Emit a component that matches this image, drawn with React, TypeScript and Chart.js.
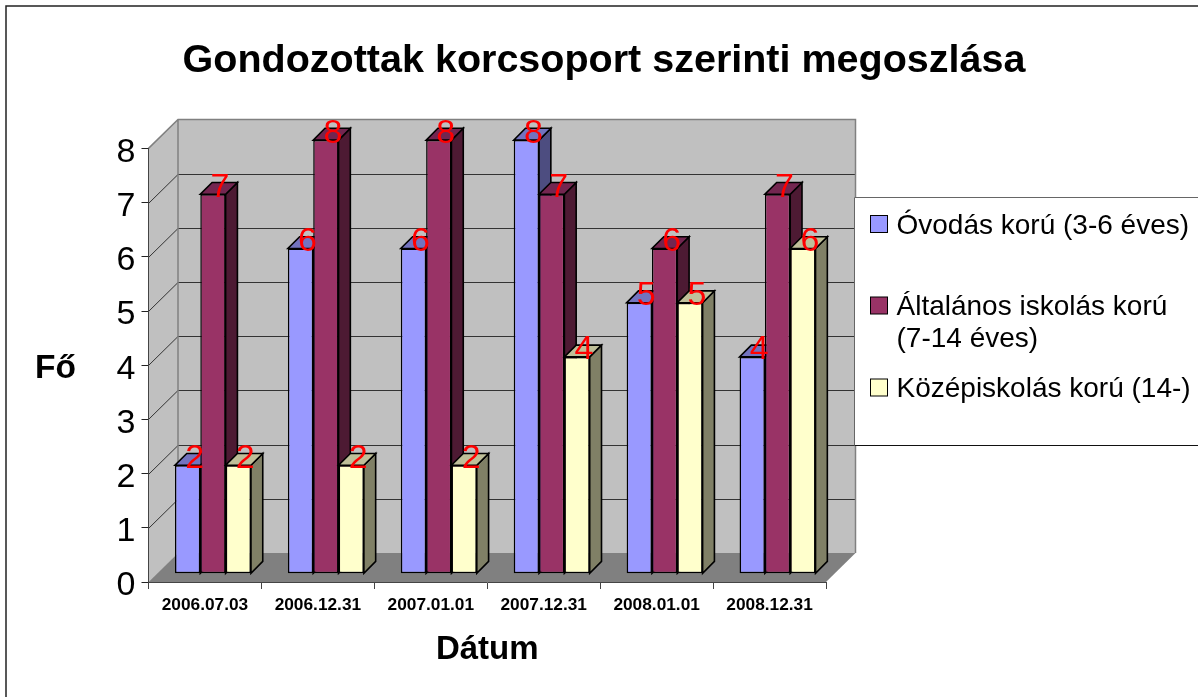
import React, { useEffect, useRef } from "react";
import { Chart, registerables } from "chart.js";

Chart.register(...registerables);

const categories = ["2006.07.03", "2006.12.31", "2007.01.01", "2007.12.31", "2008.01.01", "2008.12.31"];
const preschool = [2, 6, 6, 8, 5, 4];
const primary = [7, 8, 8, 7, 6, 7];
const secondary = [2, 2, 2, 4, 5, 6];
const seriesNames = ["Óvodás korú (3-6 éves)", "Általános iskolás korú (7-14 éves)", "Középiskolás korú (14-)"];
const legendLines = [["Óvodás korú (3-6 éves)"], ["Általános iskolás korú", "(7-14 éves)"], ["Középiskolás korú (14-)"]];
const legendBaselines = [233.5, 315, 397];
const fill = ["#9999FF", "#993366", "#FFFFCC"];
const topFace = ["#7373BF", "#732650", "#BFBF99"];
const sideFace = ["#4D4D80", "#4D1A33", "#808066"];
const titleText = "Gondozottak korcsoport szerinti megoszlása";
const xTitle = "Dátum";
const yTitle = "Fő";

const FONT = '"Liberation Sans", Arial, sans-serif';
const WALL_DX = 29.5;
const WALL_DY = 29;
const BAR_DX = 8;
const BAR_DY = 8.3;
const BAR_DEPTH = 11.8;

function poly(ctx: CanvasRenderingContext2D, pts: number[][], fillStyle: string, stroke?: string, lw = 1) {
  ctx.beginPath();
  pts.forEach((p, i) => (i ? ctx.lineTo(p[0], p[1]) : ctx.moveTo(p[0], p[1])));
  ctx.closePath();
  ctx.fillStyle = fillStyle;
  ctx.fill();
  if (stroke) {
    ctx.strokeStyle = stroke;
    ctx.lineWidth = lw;
    ctx.stroke();
  }
}

const scene3d = {
  id: "scene3d",
  beforeDraw(chart: any) {
    const { ctx, scales, width } = chart;
    const x = scales.x;
    const y = scales.y;
    const l = x.left;
    const r = x.right;
    const t = y.getPixelForValue(8);
    const b = y.getPixelForValue(0);
    ctx.save();
    ctx.fillStyle = "#fff";
    ctx.fillRect(0, 0, width, chart.height);
    ctx.strokeStyle = "#222";
    ctx.lineWidth = 1.5;
    ctx.beginPath();
    ctx.moveTo(6, chart.height);
    ctx.lineTo(6, 6);
    ctx.lineTo(width, 6);
    ctx.stroke();
    // side wall, back wall
    poly(ctx, [[l, t], [l + WALL_DX, t - WALL_DY], [l + WALL_DX, b - WALL_DY], [l, b]], "#C0C0C0");
    poly(ctx, [[l + WALL_DX, t - WALL_DY], [r + WALL_DX, t - WALL_DY], [r + WALL_DX, b - WALL_DY], [l + WALL_DX, b - WALL_DY]], "#C0C0C0");
    // grid lines
    ctx.strokeStyle = "#333";
    ctx.lineWidth = 1;
    for (let v = 1; v < 8; v++) {
      const py = Math.round(y.getPixelForValue(v)) + 0.5;
      ctx.beginPath();
      ctx.moveTo(l, py);
      ctx.lineTo(l + WALL_DX, py - WALL_DY);
      ctx.lineTo(r + WALL_DX, py - WALL_DY);
      ctx.stroke();
    }
    // wall outline
    ctx.strokeStyle = "#808080";
    ctx.lineWidth = 1.5;
    ctx.beginPath();
    ctx.moveTo(l, t);
    ctx.lineTo(l + WALL_DX, t - WALL_DY);
    ctx.lineTo(r + WALL_DX, t - WALL_DY);
    ctx.lineTo(r + WALL_DX, b - WALL_DY);
    ctx.moveTo(l + WALL_DX, t - WALL_DY);
    ctx.lineTo(l + WALL_DX, b - WALL_DY);
    ctx.stroke();
    // floor
    poly(ctx, [[l, b], [r, b], [r + WALL_DX, b - WALL_DY], [l + WALL_DX, b - WALL_DY]], "#808080");
    ctx.restore();
  },
  beforeDatasetsDraw(chart: any) {
    const { ctx } = chart;
    const metas = chart.data.datasets.map((_: any, i: number) => chart.getDatasetMeta(i));
    ctx.save();
    ctx.translate(BAR_DX, -BAR_DY);
    categories.forEach((_, c) => {
      metas.forEach((meta: any, d: number) => {
        const el = meta.data[c];
        const { x, y, base, width } = el.getProps(["x", "y", "base", "width"], true);
        const x0 = x - width / 2;
        const x1 = x + width / 2;
        poly(ctx, [[x1, y], [x1 + BAR_DEPTH, y - BAR_DEPTH], [x1 + BAR_DEPTH, base - BAR_DEPTH], [x1, base]], sideFace[d], "#000", 1.6);
        poly(ctx, [[x0, y], [x1, y], [x1 + BAR_DEPTH, y - BAR_DEPTH], [x0 + BAR_DEPTH, y - BAR_DEPTH]], topFace[d], "#000", 1.6);
        el.draw(ctx);
      });
    });
    ctx.fillStyle = "#FF0000";
    ctx.font = `34px ${FONT}`;
    ctx.textAlign = "center";
    ctx.textBaseline = "alphabetic";
    metas.forEach((meta: any, d: number) => {
      meta.data.forEach((el: any, c: number) => {
        const { x, y } = el.getProps(["x", "y"], true);
        ctx.fillText(String(chart.data.datasets[d].data[c]), x + 7, y + 2.5);
      });
    });
    ctx.restore();
    return false;
  },
  afterDraw(chart: any) {
    const { ctx, width } = chart;
    ctx.save();
    ctx.fillStyle = "#fff";
    ctx.fillRect(854, 197.5, width - 854, 248);
    ctx.strokeStyle = "#666";
    ctx.lineWidth = 1;
    ctx.beginPath();
    ctx.moveTo(width, 197.5);
    ctx.lineTo(854.5, 197.5);
    ctx.lineTo(854.5, 445.5);
    ctx.stroke();
    ctx.strokeStyle = "#111";
    ctx.beginPath();
    ctx.moveTo(854.5, 445.5);
    ctx.lineTo(width, 445.5);
    ctx.stroke();
    ctx.textAlign = "left";
    ctx.textBaseline = "alphabetic";
    legendLines.forEach((lines, i) => {
      const bl = legendBaselines[i];
      ctx.fillStyle = fill[i];
      ctx.fillRect(870.5, bl - 18, 17, 17);
      ctx.strokeStyle = "#000";
      ctx.lineWidth = 1;
      ctx.strokeRect(870.5, bl - 18, 17, 17);
      ctx.fillStyle = "#000";
      ctx.font = `28px ${FONT}`;
      lines.forEach((s, k) => ctx.fillText(s, 896.5, bl + k * 32));
    });
    ctx.font = `bold 33.5px ${FONT}`;
    ctx.fillText(yTitle, 35, 378);
    ctx.restore();
  },
};

export default function App() {
  const ref = useRef<HTMLCanvasElement>(null);
  useEffect(() => {
    document.body.style.margin = "0";
    const chart = new Chart(ref.current as HTMLCanvasElement, {
      type: "bar",
      data: {
        labels: categories,
        datasets: [preschool, primary, secondary].map((data, i) => ({
          label: seriesNames[i],
          data,
          backgroundColor: fill[i],
          borderColor: "#000",
          borderWidth: 1.5,
          borderSkipped: false,
          categoryPercentage: 0.673,
          barPercentage: 1,
        })),
      },
      options: {
        responsive: false,
        animation: false,
        layout: { padding: { left: 10 } },
        plugins: {
          legend: { display: false },
          tooltip: { enabled: false },
          title: {
            display: true,
            text: titleText,
            color: "#000",
            font: { family: FONT, size: 39.5, weight: "bold", lineHeight: 1.2 },
            padding: { top: 37, bottom: 64 },
          },
        },
        scales: {
          x: {
            afterFit: (s: any) => { s.height = 115; },
            border: { display: true, color: "#444", width: 1 },
            grid: { drawOnChartArea: false, drawTicks: true, tickLength: 7, color: "#444" },
            ticks: { color: "#000", font: { family: FONT, size: 17.3, weight: "bold" }, maxRotation: 0, autoSkip: false, padding: 6 },
            title: {
              display: true,
              text: xTitle,
              color: "#000",
              font: { family: FONT, size: 33, weight: "bold", lineHeight: 1.2 },
              padding: { top: 0, bottom: 27 },
            },
          },
          y: {
            min: 0,
            max: 8,
            afterFit: (s: any) => { s.width = 138.5; },
            border: { display: true, color: "#444", width: 1 },
            grid: { drawOnChartArea: false, drawTicks: true, tickLength: 7, color: "#222" },
            ticks: { stepSize: 1, color: "#000", font: { family: FONT, size: 34 }, padding: 6, autoSkip: false, labelOffset: 4 },
          },
          legendGap: {
            type: "linear",
            position: "right",
            display: true,
            afterFit: (s: any) => { s.width = 372; },
            border: { display: false },
            grid: { display: false },
            ticks: { display: false },
          },
        },
      } as any,
      plugins: [scene3d],
    });
    return () => chart.destroy();
  }, []);
  return (
    <canvas
      ref={ref}
      width={1198}
      height={697}
      style={{ position: "absolute", left: 0, top: 0, width: 1198, height: 697, display: "block" }}
    />
  );
}
